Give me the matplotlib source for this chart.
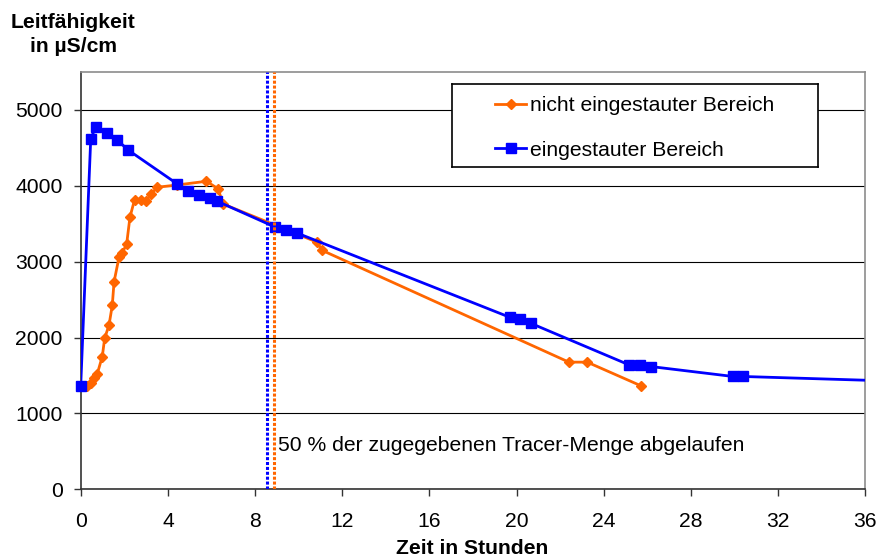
import matplotlib

matplotlib.use("Agg")
import matplotlib.pyplot as plt  # noqa: E402

plt.rcParams["font.family"] = ["Liberation Sans", "DejaVu Sans"]

# Leitfähigkeit (µS/cm) über Zeit (h)
orange_hours = [0.30, 0.46, 0.61, 0.76, 0.99, 1.10, 1.30, 1.45, 1.53, 1.76,
                1.91, 2.11, 2.26, 2.47, 2.75, 3.01, 3.24, 3.51, 4.40, 5.77,
                6.31, 6.52, 10.84, 11.07, 22.40, 23.24, 25.70]
orange_vals = [1365, 1400, 1466, 1522, 1750, 1991, 2165, 2428, 2734, 3062,
               3115, 3237, 3587, 3815, 3815, 3806, 3894, 3981, 4010, 4060,
               3959, 3762, 3258, 3150, 1676, 1676, 1365]

blue_hours = [0.0, 0.46, 0.69, 1.22, 1.68, 2.18, 4.43, 4.93, 5.42, 5.91,
              6.26, 8.93, 9.44, 9.93, 19.70, 20.16, 20.66, 25.16, 25.65,
              26.16, 29.93, 30.39, 38.0]
blue_vals = [1360, 4615, 4777, 4702, 4603, 4471, 4025, 3937, 3885, 3836,
             3797, 3455, 3412, 3377, 2266, 2244, 2187, 1640, 1640,
             1618, 1487, 1487, 1420]

# 50 % Tracer-Menge abgelaufen
half_blue = 8.55
half_orange = 8.88

x_ticks = list(range(0, 37, 4))
y_ticks = list(range(0, 5001, 1000))

ORANGE = "#FF6600"
BLUE = "#0000FF"
X_MAX = 36
W, H = 877, 560
FS = 15.2

fig = plt.figure(figsize=(W / 100, H / 100), dpi=100)
ax = fig.add_axes([80.7 / W, 1 - 489.3 / H, (865.3 - 80.7) / W, (489.3 - 72) / H])

ax.set_xlim(0, X_MAX)
ax.set_ylim(0, 5500)
ax.set_xticks(x_ticks)
ax.set_yticks(y_ticks)
ax.yaxis.grid(True, color="black", lw=0.8)
ax.set_axisbelow(True)
ax.tick_params(axis="both", direction="out", length=5, width=1,
               labelsize=FS, color="#333333")
ax.tick_params(axis="x", pad=11)
ax.tick_params(axis="y", pad=8)
for side in ("left", "bottom"):
    ax.spines[side].set_color("#333333")
    ax.spines[side].set_linewidth(1.2)
for side in ("top", "right"):
    ax.spines[side].set_color("#8c8c8c")
    ax.spines[side].set_linewidth(1.2)

series = [
    (orange_hours, orange_vals, ORANGE, "D", 5, "nicht eingestauter Bereich", 3),
    (blue_hours, blue_vals, BLUE, "s", 7.3, "eingestauter Bereich", 4),
]
handles = []
for hrs, vals, col, mk, ms, label, z in series:
    ax.plot(hrs, vals, color=col, lw=2, zorder=z)
    # markers are not clipped at the frame, the line is
    inside = [(h, v) for h, v in zip(hrs, vals) if h <= X_MAX]
    ax.plot([p[0] for p in inside], [p[1] for p in inside], ls="none",
            marker=mk, ms=ms, color=col, mec=col, zorder=z, clip_on=False)
    handles.append(plt.Line2D([], [], color=col, lw=2, marker=mk, ms=ms,
                              mec=col, label=label))

for xv, col in ((half_blue, BLUE), (half_orange, ORANGE)):
    ax.axvline(xv, color=col, lw=2.2, ls=(0, (1, 0.6)),
               dash_capstyle="butt", zorder=5)

ax.text(9.05, 583, "50 % der zugegebenen Tracer-Menge abgelaufen",
        fontsize=FS, ha="left", va="center")

# legend box: own axes so the side padding can be wider than the top/bottom one
ax_box = fig.add_axes([451.7 / W, 1 - 166.7 / H, (818.3 - 451.7) / W,
                       (166.7 - 84) / H])
ax_box.set_xticks([])
ax_box.set_yticks([])
for s in ax_box.spines.values():
    s.set_color("black")
    s.set_linewidth(1.2)
ax_box.legend(handles=handles, loc="upper left",
              bbox_to_anchor=(495 / W, 1 - 96 / H),
              bbox_transform=fig.transFigure, frameon=False, fontsize=FS,
              borderpad=0, borderaxespad=0, handlelength=1.48,
              handletextpad=0.2, labelspacing=1.22)

fig.text(73 / W, 1 - 34.5 / H, "Leitfähigkeit\nin µS/cm", fontsize=FS,
         fontweight="bold", ha="center", va="center", linespacing=1.38)
fig.text(472 / W, 1 - 549 / H, "Zeit in Stunden", fontsize=FS,
         fontweight="bold", ha="center", va="center")

fig.savefig("out.png", dpi=100)
